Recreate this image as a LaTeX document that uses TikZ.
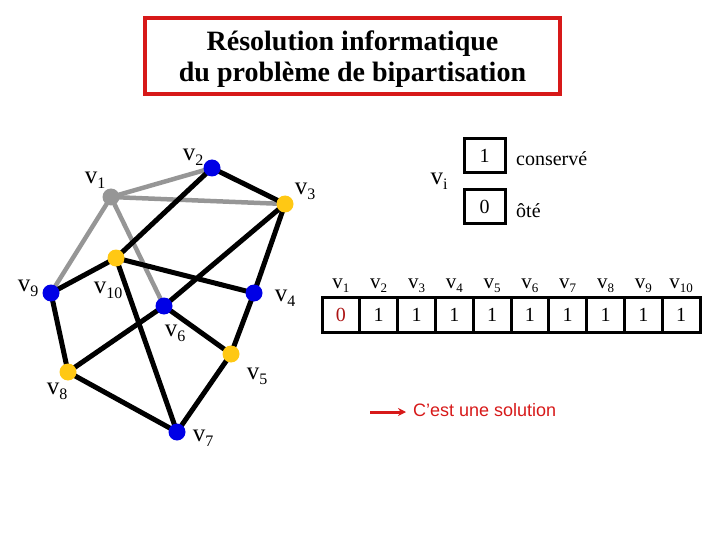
\documentclass[tikz,border=0pt]{standalone}
\usepackage{fontspec}
\usetikzlibrary{arrows.meta}
\setmainfont{Liberation Serif}
\newfontfamily\arialf{Liberation Sans}
\definecolor{vblue}{RGB}{0,0,230}
\definecolor{vyel}{RGB}{255,200,20}
\definecolor{vgray}{RGB}{150,150,150}
\definecolor{tred}{RGB}{215,25,25}
\newcommand\vlab[1]{{\fontsize{25}{25}\selectfont v}\raisebox{-5pt}{\fontsize{16}{16}\selectfont #1}}
\newcommand\hlab[1]{{\fontsize{21}{21}\selectfont v}\raisebox{-4pt}{\fontsize{13}{13}\selectfont #1}}
\begin{document}
\begin{tikzpicture}[x=1pt,y=-1pt,
  vert/.style={circle,inner sep=0pt,minimum size=17pt},
  bl/.style={vert,fill=vblue},
  ye/.style={vert,fill=vyel},
  gr/.style={vert,fill=vgray},
  blk/.style={line width=5pt,black},
  gry/.style={line width=4.5pt,vgray},
  lab/.style={inner sep=0pt,anchor=center},
  cell/.style={draw,line width=3pt,minimum width=37.8pt,minimum height=35pt,inner sep=0pt,font=\fontsize{20}{20}\selectfont},
  lbox/.style={draw,line width=3pt,minimum width=41pt,minimum height=34pt,inner sep=0pt,font=\fontsize{20}{20}\selectfont}]
\useasboundingbox (0,0) rectangle (720,540);
% title
\node[draw=tred,line width=3.5pt,minimum width=415pt,minimum height=76pt] (title) at (352.5,56) {};
\node[align=center,inner sep=0pt,font=\bfseries\fontsize{28}{31}\selectfont] (ttext) at (352.5,59.5) {Résolution informatique\\du problème de bipartisation};
% vertices
\coordinate (p1) at (111,197);
\coordinate (p2) at (212,168);
\coordinate (p3) at (285,204);
\coordinate (p4) at (254,293);
\coordinate (p5) at (231,354);
\coordinate (p6) at (164,306);
\coordinate (p7) at (177,432);
\coordinate (p8) at (68,372);
\coordinate (p9) at (51,293);
\coordinate (p10) at (116,258);
% gray edges
\draw[gry] (p1) -- (p2);
\draw[gry] (p1) -- (p3);
\draw[gry] (p1) -- (p9);
\draw[gry] (p1) -- (p6);
% black edges
\draw[blk] (p2) -- (p3);
\draw[blk] (p2) -- (p10);
\draw[blk] (p3) -- (p6);
\draw[blk] (p3) -- (p4);
\draw[blk] (p10) -- (p9);
\draw[blk] (p10) -- (p4);
\draw[blk] (p10) -- (p7);
\draw[blk] (p9) -- (p8);
\draw[blk] (p8) -- (p6);
\draw[blk] (p6) -- (p5);
\draw[blk] (p4) -- (p5);
\draw[blk] (p8) -- (p7);
\draw[blk] (p5) -- (p7);
\node[gr] (v1) at (p1) {};
\node[bl] (v2) at (p2) {};
\node[ye] (v3) at (p3) {};
\node[bl] (v4) at (p4) {};
\node[ye] (v5) at (p5) {};
\node[bl] (v6) at (p6) {};
\node[bl] (v7) at (p7) {};
\node[ye] (v8) at (p8) {};
\node[bl] (v9) at (p9) {};
\node[ye] (v10) at (p10) {};
% vertex labels
\node[lab] (l1) at (95,180) {\vlab{1}};
\node[lab] (l2) at (193,157) {\vlab{2}};
\node[lab] (l3) at (305,191) {\vlab{3}};
\node[lab] (l4) at (285,298) {\vlab{4}};
\node[lab] (l5) at (257,376) {\vlab{5}};
\node[lab] (l6) at (175,333) {\vlab{6}};
\node[lab] (l7) at (203,438) {\vlab{7}};
\node[lab] (l8) at (57,391) {\vlab{8}};
\node[lab] (l9) at (28,288) {\vlab{9}};
\node[lab] (l10) at (108,290) {\vlab{10}};
% legend
\node[lab] (vi) at (439,181) {\vlab{i}};
\node[lbox] (b1) at (484.5,156) {1};
\node[lbox] (b0) at (484.5,207) {0};
\node[anchor=west,inner sep=0pt,font=\fontsize{20}{20}\selectfont] (cons) at (516,159) {conservé};
\node[anchor=west,inner sep=0pt,font=\fontsize{20}{20}\selectfont] (ote) at (516,211) {ôté};
% table
\foreach \i/\v in {1/0,2/1,3/1,4/1,5/1,6/1,7/1,8/1,9/1,10/1}{
  \node[cell] (c\i) at ({322+37.8*(\i-0.5)},314.5) {\ifnum\i=1 \textcolor{tred!80!black}{\v}\else\v\fi};
  \node[lab] (h\i) at ({322+37.8*(\i-0.5)},286) {\hlab{\i}};
}
% solution
\coordinate (a0) at (370,412);
\coordinate (a1) at (406,412);
\draw[tred,line width=3pt,-{Stealth[length=8pt,width=8pt]}] (a0) -- (a1);
\node[anchor=west,inner sep=0pt,text=tred,font=\arialf\fontsize{18}{18}\selectfont] (sol) at (413,410) {C’est une solution};
\end{tikzpicture}
\end{document}
